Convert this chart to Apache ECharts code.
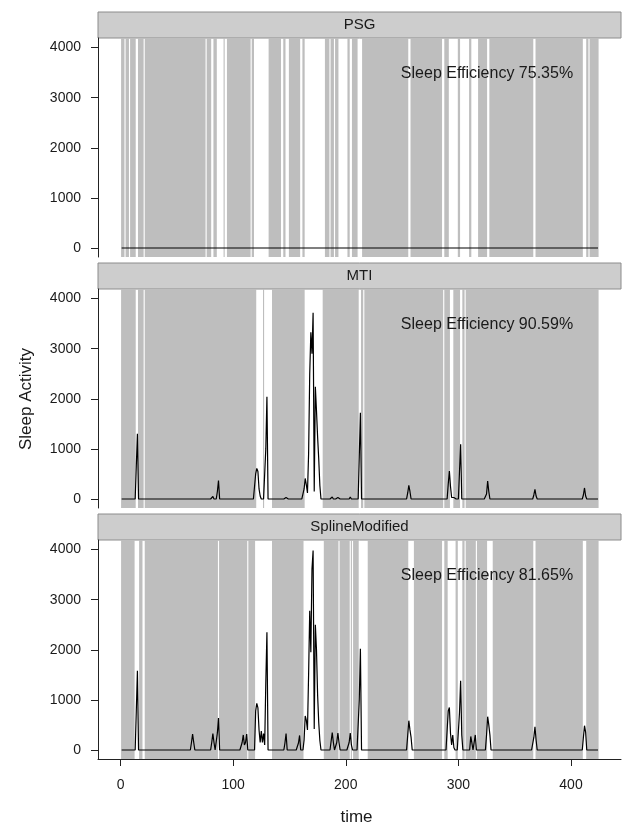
<!DOCTYPE html>
<html><head><meta charset="utf-8">
<script src="https://cdn.jsdelivr.net/npm/echarts@6/dist/echarts.min.js"></script>
<style>html,body{margin:0;padding:0;background:#fff}#c{width:623px;height:825px}</style>
</head><body><div id="c"></div>
<script>
// ---------- data ----------
const panelNames = ['PSG', 'MTI', 'SplineModified'];
const efficiencyLabels = ['Sleep Efficiency 75.35%', 'Sleep Efficiency 90.59%', 'Sleep Efficiency 81.65%'];
const xAxisTitle = 'time';
const yAxisTitle = 'Sleep Activity';
const nEpochs = 424;               // epochs 1..424
const xTicks = [0, 100, 200, 300, 400];
const yTicks = [0, 1000, 2000, 3000, 4000];

// wake epochs (white gaps) per scoring method, [first, last]
const psgWake = [[4,4],[8,8],[14,15],[21,21],[76,76],[81,82],[86,91],[93,94],[116,116],[119,131],
  [143,144],[147,149],[160,161],[164,181],[186,186],[190,190],[194,201],[204,205],[211,214],
  [256,257],[286,287],[292,299],[302,309],[312,317],[326,327],[367,368],[411,413],[416,416]];
const mtiWake = [[14,15],[21,21],[121,126],[128,134],[164,179],[212,213],[216,216],
  [287,287],[293,295],[302,303],[306,306]];
const splineWake = [[13,16],[20,21],[87,87],[113,113],[120,134],[163,180],[194,194],[204,204],
  [206,206],[212,219],[256,260],[286,287],[291,297],[300,303],[306,306],[316,316],[326,330],
  [367,368],[411,413]];

// non-zero activity counts [epoch, value]; all other epochs are 0
const psgActivity = [];
const mtiActivity = [[14,650],[15,1300],[63,30],[82,50],[86,150],[87,370],
  [120,500],[121,610],[122,550],[123,200],[124,60],[129,1000],[130,2040],[147,30],
  [163,200],[164,410],[165,280],[166,120],[167,900],[168,2500],[169,3330],[170,2900],[171,3720],
  [172,150],[173,2240],[174,1760],[175,1240],[176,800],[177,270],
  [188,40],[193,30],[204,40],[212,840],[213,1720],[255,120],[256,270],[257,150],
  [291,300],[292,560],[293,250],[294,30],[295,40],[296,30],[301,550],[302,1090],
  [325,100],[326,360],[327,150],[367,80],[368,190],[369,60],[411,80],[412,220],[413,60]];
const splineActivity = [[14,770],[15,1580],[63,150],[64,320],[65,150],[81,150],[82,330],[83,150],
  [86,340],[87,640],[108,150],[109,300],[110,100],[111,150],[112,320],
  [120,780],[121,930],[122,840],[123,400],[124,150],[125,380],[126,150],[127,330],[128,100],
  [129,1340],[130,2350],[146,140],[147,330],[158,140],[159,290],
  [163,200],[164,680],[165,590],[166,400],[167,1500],[168,2780],[169,1950],[170,3610],[171,3980],
  [172,420],[173,2500],[174,2000],[175,1100],[176,550],[177,190],
  [188,350],[189,150],[192,150],[193,340],[194,150],[203,150],[204,340],[205,100],
  [212,1000],[213,2020],[256,585],[257,400],[258,250],
  [291,780],[292,850],[293,330],[294,100],[295,300],[296,50],[301,750],[302,1380],[303,300],
  [311,270],[312,140],[315,300],[325,300],[326,665],[327,500],[328,300],
  [367,250],[368,465],[369,200],[411,250],[412,485],[413,350]];

const wakeSets = [psgWake, mtiWake, splineWake];
const activitySets = [psgActivity, mtiActivity, splineActivity];

// ---------- build ----------
function fullSeries(pairs) {
  const m = new Map(pairs);
  const out = [];
  for (let t = 1; t <= nEpochs; t++) out.push([t, m.has(t) ? m.get(t) : 0]);
  return out;
}
function sleepAreas(wake) {
  const areas = [];
  let start = 1;
  for (const [a, b] of wake) {
    if (a > start) areas.push([start, a - 1]);
    start = b + 1;
  }
  if (start <= nEpochs) areas.push([start, nEpochs]);
  return areas.map(([a, b]) => [{ xAxis: a - 0.5 }, { xAxis: b + 0.5 }]);
}

const FONT = '"Liberation Sans", Arial, sans-serif';
const gridLeft = 98, gridWidth = 523, gridHeight = 219, stripH = 26;
const gridTops = [38, 289, 540];
const plain = v => String(v);

const grids = [], xAxes = [], yAxes = [], series = [], graphics = [];
gridTops.forEach((top, i) => {
  grids.push({ left: gridLeft, top: top, width: gridWidth, height: gridHeight,
    containLabel: false, outerBoundsMode: 'none' });
  const last = i === 2;
  xAxes.push({
    type: 'value', gridIndex: i, min: -20, max: 444.4, show: last,
    axisLine: { show: true, onZero: false, lineStyle: { color: '#222', width: 1 } },
    axisTick: { show: true, length: 7, customValues: xTicks, lineStyle: { color: '#222' } },
    axisLabel: { customValues: xTicks, formatter: plain, color: '#1a1a1a', fontSize: 14, fontFamily: FONT, margin: 19 },
    splitLine: { show: false }
  });
  yAxes.push({
    type: 'value', gridIndex: i, min: -180, max: 4192,
    axisLine: { show: true, onZero: false, lineStyle: { color: '#222', width: 1 } },
    axisTick: { show: true, length: 7, customValues: yTicks, lineStyle: { color: '#222' } },
    axisLabel: { customValues: yTicks, formatter: plain, color: '#1a1a1a', fontSize: 14, fontFamily: FONT, margin: 17 },
    splitLine: { show: false }
  });
  series.push({
    type: 'line', xAxisIndex: i, yAxisIndex: i,
    data: fullSeries(activitySets[i]),
    showSymbol: false, silent: true, animation: false,
    lineStyle: { color: '#000', width: 1.2 },
    markArea: {
      silent: true, animation: false,
      itemStyle: { color: '#bebebe', opacity: 1, borderWidth: 0 },
      label: { show: false },
      data: sleepAreas(wakeSets[i])
    }
  });
  // strip
  graphics.push({
    type: 'rect', silent: true,
    shape: { x: gridLeft, y: top - stripH, width: gridWidth, height: stripH },
    style: { fill: '#cdcdcd', stroke: '#8c8c8c', lineWidth: 1 }
  });
  graphics.push({
    type: 'text', silent: true, x: gridLeft + gridWidth / 2, y: top - stripH / 2,
    style: { text: panelNames[i], fill: '#1a1a1a', font: '15px ' + FONT, align: 'center', verticalAlign: 'middle' }
  });
  graphics.push({
    type: 'text', silent: true, x: 487, y: top + 36, z: 10,
    style: { text: efficiencyLabels[i], fill: '#1a1a1a', font: '16px ' + FONT, align: 'center', verticalAlign: 'middle' }
  });
});
graphics.push({
  type: 'text', silent: true, x: 26, y: 399, rotation: Math.PI / 2,
  style: { text: yAxisTitle, fill: '#1a1a1a', font: '17px ' + FONT, align: 'center', verticalAlign: 'middle' }
});
graphics.push({
  type: 'text', silent: true, x: gridLeft + gridWidth / 2 - 3, y: 817,
  style: { text: xAxisTitle, fill: '#1a1a1a', font: '17px ' + FONT, align: 'center', verticalAlign: 'middle' }
});

const chart = echarts.init(document.getElementById('c'), null, { renderer: 'canvas' });
chart.setOption({
  animation: false,
  backgroundColor: '#fff',
  grid: grids, xAxis: xAxes, yAxis: yAxes, series: series,
  graphic: graphics
});
</script>
</body></html>
